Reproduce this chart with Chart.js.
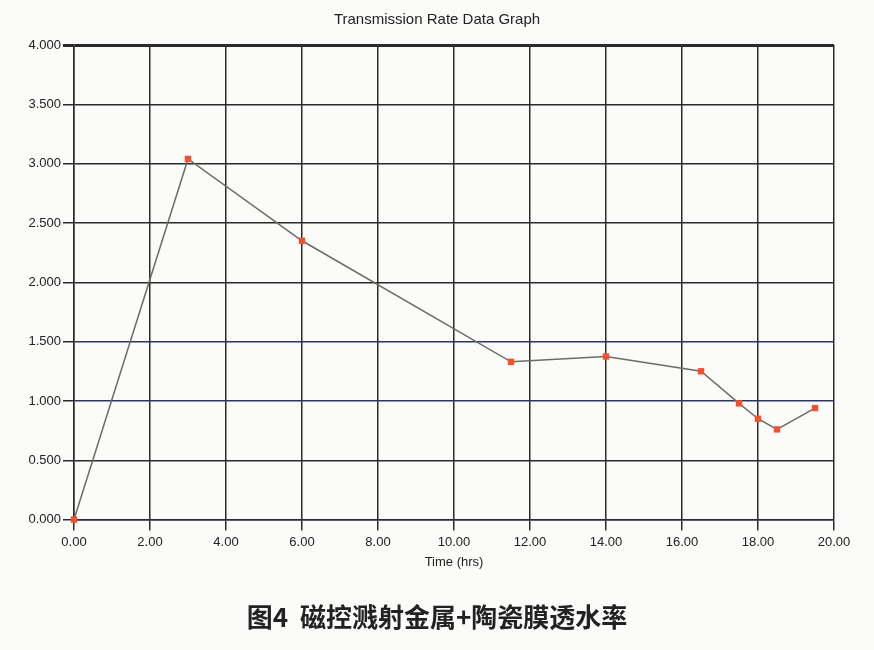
<!DOCTYPE html>
<html>
<head>
<meta charset="utf-8">
<script src="https://cdn.jsdelivr.net/npm/chart.js@4.4.1/dist/chart.umd.min.js"></script>
<style>
  body { margin: 0; background: #fbfbfa; }
  #wrap { width: 874px; height: 650px; }
</style>
</head>
<body>
<div id="wrap"><canvas id="rate-chart" width="874" height="650"></canvas></div>
<script>
// values
var hours = [0, 3, 6, 11.5, 14, 16.5, 17.5, 18, 18.5, 19.5];
var rates = [0, 3.04, 2.35, 1.33, 1.375, 1.25, 0.98, 0.85, 0.76, 0.94];
var chartTitle = 'Transmission Rate Data Graph';
var xTitle = 'Time (hrs)';
var caption = '图4  磁控溅射金属+陶瓷膜透水率';

var points = hours.map((h, i) => ({x: h, y: rates[i]}));
var tickFont = {family: "'Liberation Sans Narrow', 'Liberation Sans', Arial", size: 13};

var ctx = document.getElementById('rate-chart');
var myChart = new Chart(ctx, {
  type: 'scatter',
  data: {
    datasets: [{
      data: points,
      showLine: true,
      clip: false,
      borderColor: '#6b6b66',
      borderWidth: 1.5,
      pointStyle: 'rect',
      pointRadius: 4.5,
      pointBackgroundColor: '#f2512e',
      pointBorderWidth: 0,
      tension: 0
    }]
  },
  options: {
    responsive: false,
    animation: false,
    layout: {padding: 0},
    plugins: {
      legend: {display: false},
      tooltip: {enabled: false},
      title: {
        display: true,
        text: chartTitle,
        color: '#222',
        font: {family: "'Liberation Sans Narrow', 'Liberation Sans', Arial", size: 15, weight: 'normal'},
        padding: {top: 11, bottom: 16}
      },
      subtitle: {
        display: true,
        position: 'bottom',
        text: caption,
        color: '#222',
        font: {family: "'Noto Sans CJK SC', sans-serif", size: 26, weight: 'bold'},
        padding: {top: 32, bottom: 17}
      }
    },
    scales: {
      x: {
        type: 'linear',
        min: 0,
        max: 20,
        ticks: {
          stepSize: 2,
          color: '#222',
          font: tickFont,
          padding: 4,
          callback: v => v.toFixed(2)
        },
        grid: {color: '#2b2b2b', lineWidth: 1.5, tickLength: 11, tickColor: '#2b2b2b'},
        border: {color: '#2a2a40', width: 1.5},
        title: {display: true, text: xTitle, color: '#222', font: tickFont, padding: {top: 0, bottom: 0}}
      },
      y: {
        min: 0,
        max: 4,
        ticks: {
          stepSize: 0.5,
          color: '#222',
          font: tickFont,
          padding: 2,
          callback: v => v.toFixed(3)
        },
        afterFit: s => { s.width = 74; },
        grid: {
          color: c => (c.tick && (c.tick.value == 1 || c.tick.value == 1.5)) ? '#2e3560' : '#2b2b2b',
          lineWidth: c => (c.tick && c.tick.value == 4) ? 3 : 1.5,
          tickLength: 11,
          tickColor: '#2b2b2b'
        },
        border: {color: '#2b2b2b', width: 1.5}
      },
      // empty right margin so the titles centre on the whole page
      yRight: {
        position: 'right',
        min: 0,
        max: 4,
        ticks: {display: false},
        grid: {display: false},
        border: {display: false},
        afterFit: s => { s.width = 40; }
      }
    }
  }
});
</script>
</body>
</html>
